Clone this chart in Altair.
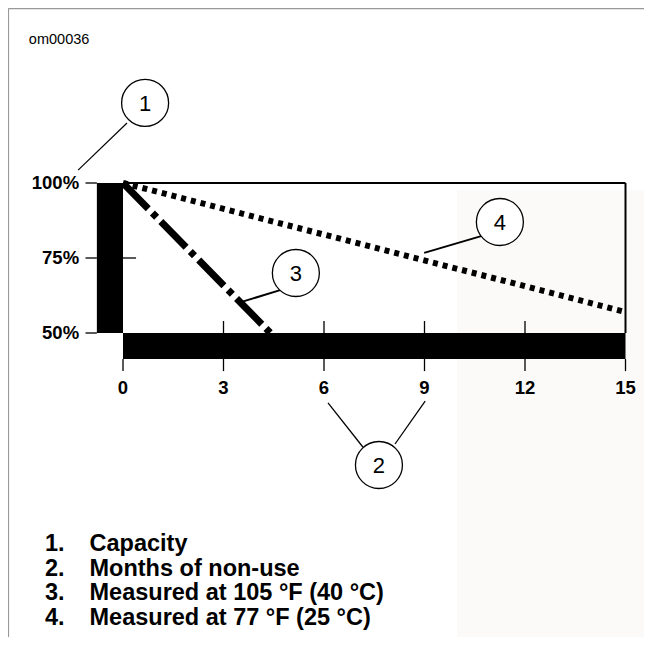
import altair as alt
import pandas as pd

# ---------------- data ----------------
months_105F = [0, 4.4]          # Measured at 105 °F (40 °C)
capacity_105F = [100, 50]
months_77F = [0, 15]            # Measured at 77 °F (25 °C)
capacity_77F = [100, 57]

x_ticks = [0, 3, 6, 9, 12, 15]
x_tick_labels = ["0", "3", "6", "9", "12", "15"]
y_ticks = [50, 75, 100]
y_tick_labels = ["50%", "75%", "100%"]
inner_x_ticks = [3, 6, 9, 12]

callout_nums = ["1", "2", "3", "4"]
callout_m = [0.66, 7.64, 5.16, 11.25]
callout_p = [126.7, 6.0, 70.0, 87.0]

legend_nums = ["1.", "2.", "3.", "4."]
legend_labels = ["Capacity", "Months of non-use",
                 "Measured at 105 °F (40 °C)", "Measured at 77 °F (25 °C)"]

# ---------------- scales ----------------
W, H = 636, 629
PX_PER_M = 33.5
PX_PER_P = 3.0
XMIN = -115 / PX_PER_M
XMAX = XMIN + W / PX_PER_M
YMAX = 100 + 175 / PX_PER_P
YMIN = YMAX - H / PX_PER_P

FONT = "Liberation Sans"
xs = alt.Scale(domain=[XMIN, XMAX], nice=False, zero=False)
ys = alt.Scale(domain=[YMIN, YMAX], nice=False, zero=False)


def X(f="m"):
    return alt.X(f"{f}:Q", scale=xs, axis=None)


def Y(f="p"):
    return alt.Y(f"{f}:Q", scale=ys, axis=None)


def seg(df, **kw):
    return alt.Chart(df).mark_rule(**kw).encode(x=X(), x2="m2:Q", y=Y(), y2="p2:Q")


# faint watermark background
wm = alt.Chart(pd.DataFrame({"m": [9.97], "m2": [XMAX], "p": [97.7], "p2": [YMIN]})).mark_rect(
    color="#fbfaf8").encode(x=X(), x2="m2:Q", y=Y(), y2="p2:Q")

# page border (top and left)
border = seg(pd.DataFrame({"m": [XMIN + 0.01, XMIN + 0.01], "m2": [XMAX, XMIN + 0.01],
                           "p": [YMAX - 0.17, YMAX - 0.17], "p2": [YMAX - 0.17, YMIN]}),
             color="#999999", strokeWidth=1.5)

# series lines
df3 = pd.DataFrame({"m": months_105F, "p": capacity_105F})
df4 = pd.DataFrame({"m": months_77F, "p": capacity_77F})
line3 = alt.Chart(df3).mark_line(color="black", strokeWidth=7, strokeDash=[36, 6, 6, 6],
                                 strokeCap="butt").encode(x=X(), y=Y())
line4 = alt.Chart(df4).mark_line(color="black", strokeWidth=6, strokeDash=[5, 5],
                                 strokeCap="butt").encode(x=X(), y=Y())

# frame top and right
frame = seg(pd.DataFrame({"m": [0, 15], "m2": [15, 15], "p": [100, 100], "p2": [100, 50]}),
            color="black", strokeWidth=2)

# thick axis bars
bars = alt.Chart(pd.DataFrame({"m": [-0.78, 0], "m2": [0, 15], "p": [50, 41.33], "p2": [100, 50]})).mark_rect(
    color="black").encode(x=X(), x2="m2:Q", y=Y(), y2="p2:Q")

# ticks
xt = pd.DataFrame({"m": x_ticks, "m2": x_ticks, "p": [41.33] * 6, "p2": [37.3] * 6})
yt = pd.DataFrame({"m": [-1.12] * 3, "m2": [-0.78] * 3, "p": y_ticks, "p2": y_ticks})
inner = pd.DataFrame({"m": inner_x_ticks + [0], "m2": inner_x_ticks + [0.39],
                      "p": [50] * 4 + [75], "p2": [54] * 4 + [75]})
ticks = alt.layer(seg(xt, color="black", strokeWidth=1.3),
                  seg(yt, color="black", strokeWidth=1.3),
                  seg(inner, color="black", strokeWidth=1.3))

xl = alt.Chart(pd.DataFrame({"t": x_tick_labels, "m": x_ticks, "p": [31.7] * 6})).mark_text(
    font=FONT, fontSize=18.5, fontWeight="bold", color="black", align="center", baseline="middle"
).encode(x=X(), y=Y(), text="t:N")
yl = alt.Chart(pd.DataFrame({"t": y_tick_labels, "m": [-1.31] * 3, "p": y_ticks})).mark_text(
    font=FONT, fontSize=18.5, fontWeight="bold", color="black", align="right", baseline="middle"
).encode(x=X(), y=Y(), text="t:N")

# leader lines
lead_df = pd.DataFrame({
    "m": [0.12, 6.12, 9.02, 4.69, 10.69],
    "p": [120.0, 26.7, 27.3, 64.3, 82.3],
    "m2": [-1.34, 7.16, 8.12, 3.52, 8.99],
    "p2": [104.3, 12.0, 13.0, 60.3, 76.7],
    "w": [1.2, 1.3, 1.3, 2.0, 2.0],
})
leaders = alt.Chart(lead_df).mark_rule(color="black").encode(
    x=X(), x2="m2:Q", y=Y(), y2="p2:Q",
    strokeWidth=alt.StrokeWidth("w:Q", scale=None, legend=None))

call_df = pd.DataFrame({"n": callout_nums, "m": callout_m, "p": callout_p})
circles = alt.Chart(call_df).mark_point(shape="circle", size=2209, filled=True, fill="white",
                                        stroke="black", strokeWidth=1.3, opacity=1).encode(x=X(), y=Y())
nums = alt.Chart(call_df).mark_text(font=FONT, fontSize=22, color="black", baseline="middle",
                                    align="center", dy=1).encode(x=X(), y=Y(), text="n:N")

# legend text
leg_df = pd.DataFrame({"num": legend_nums, "lab": legend_labels,
                       "m": [-2.33] * 4, "m2": [-1.0] * 4,
                       "p": [-20.2, -28.5, -36.7, -45.0]})
leg_nums = alt.Chart(leg_df).mark_text(font=FONT, fontSize=23.5, fontWeight="bold", color="black",
                                       align="left", baseline="middle").encode(x=X(), y=Y(), text="num:N")
leg_labs = alt.Chart(leg_df).mark_text(font=FONT, fontSize=23.5, fontWeight="bold", color="black",
                                       align="left", baseline="middle").encode(x=X("m2"), y=Y(), text="lab:N")

code = alt.Chart(pd.DataFrame({"t": ["om00036"], "m": [-2.81], "p": [147.7]})).mark_text(
    font=FONT, fontSize=14.5, color="black", align="left", baseline="middle").encode(x=X(), y=Y(), text="t:N")

chart = alt.layer(wm, border, line3, line4, frame, bars, ticks, xl, yl, leaders, circles, nums,
                  leg_nums, leg_labs, code).properties(
    width=W, height=H, padding=0,
    autosize=alt.AutoSizeParams(type="none"),
).configure_view(stroke=None).configure(background="white")

chart.save("out.html", embed_options={"renderer": "svg", "actions": False})
